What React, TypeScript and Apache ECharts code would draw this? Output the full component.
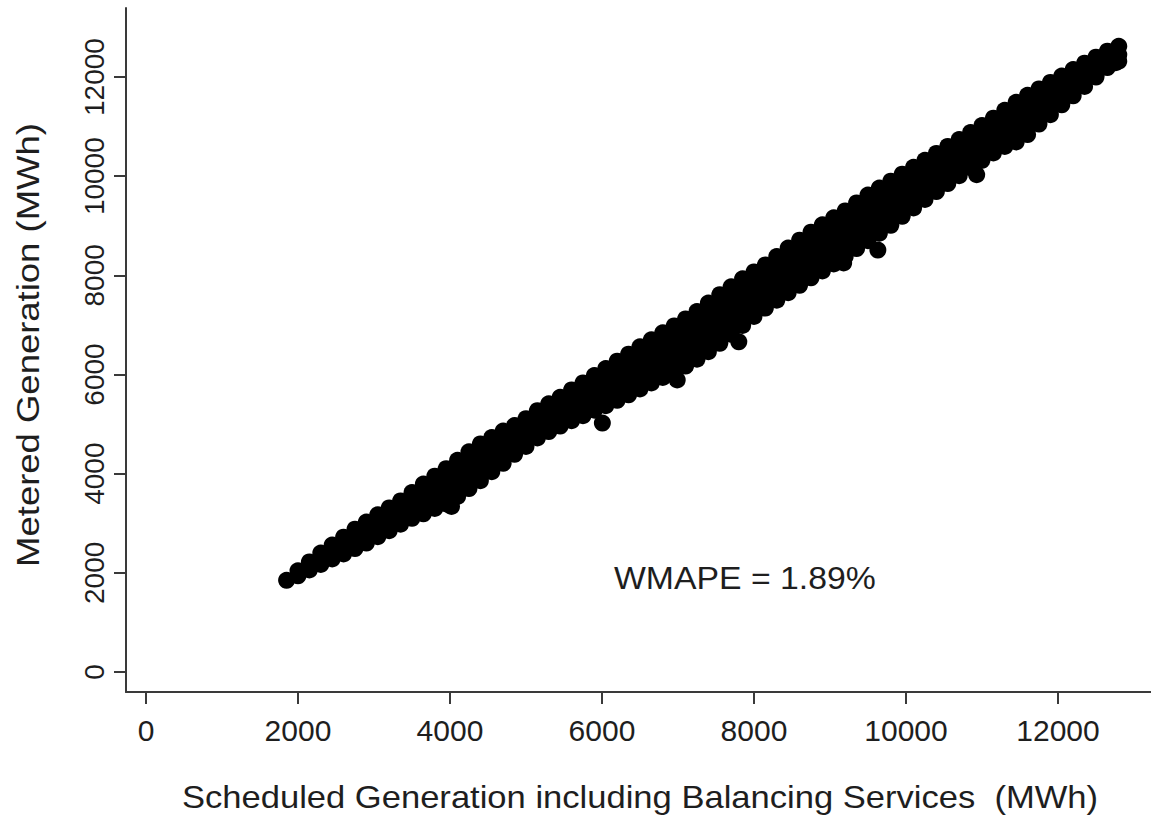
import React, { useEffect, useRef } from "react";
import * as echarts from "echarts";

const xTicks = [0, 2000, 4000, 6000, 8000, 10000, 12000];
const yTicks = [0, 2000, 4000, 6000, 8000, 10000, 12000];
const xTitle = "Scheduled Generation including Balancing Services  (MWh)";
const yTitle = "Metered Generation (MWh)";
const note = "WMAPE = 1.89%";

// Each column: [scheduled, metered values observed at that scheduled level...]
const bandLow: number[][] = [
  [1850, 1850],
  [2000, 2040, 1940],
  [2150, 2220, 2060],
  [2300, 2400, 2250, 2170],
  [2450, 2560, 2420, 2280],
  [2600, 2720, 2560, 2380],
  [2750, 2880, 2720, 2560, 2490],
  [2900, 3025, 2880, 2740, 2600],
  [3050, 3170, 3020, 2880, 2730],
  [3200, 3310, 3160, 3000, 2850],
  [3350, 3450, 3300, 3140, 2980],
  [3500, 3620, 3460, 3290, 3100],
  [3650, 3790, 3620, 3440, 3280, 3190],
  [3800, 3950, 3780, 3600, 3430, 3300],
  [3950, 4100, 3920, 3740, 3560, 3390],
  [4100, 4270, 4090, 3910, 3720, 3540],
  [4250, 4440, 4250, 4070, 3880, 3700],
  [4400, 4600, 4420, 4230, 4050, 3860],
  [4550, 4730, 4550, 4380, 4210, 4040],
  [4700, 4860, 4690, 4520, 4360, 4210],
  [4850, 4970, 4800, 4640, 4480, 4390],
];

const bandMid: number[][] = [
  [5000, 5110, 4950, 4790, 4640, 4550],
  [5150, 5270, 5100, 4940, 4800, 4720],
  [5300, 5410, 5240, 5070, 4920, 4850],
  [5450, 5540, 5380, 5210, 5050, 4960],
  [5600, 5690, 5530, 5360, 5200, 5070],
  [5750, 5830, 5660, 5490, 5330, 5170],
  [5900, 5980, 5810, 5640, 5470, 5280],
  [6050, 6120, 5940, 5760, 5580, 5370],
  [6200, 6270, 6090, 5910, 5730, 5560, 5480],
  [6350, 6410, 6230, 6050, 5870, 5690, 5590],
  [6500, 6560, 6380, 6200, 6020, 5840, 5710],
  [6650, 6700, 6520, 6340, 6160, 5990, 5830],
  [6800, 6840, 6660, 6480, 6300, 6120, 5940],
  [6950, 6980, 6800, 6620, 6440, 6260, 6050],
  [7100, 7120, 6940, 6760, 6580, 6400, 6220, 6170],
  [7250, 7270, 7090, 6910, 6730, 6550, 6370, 6310],
  [7400, 7440, 7260, 7080, 6900, 6720, 6540, 6460],
  [7550, 7610, 7430, 7250, 7070, 6890, 6710, 6630],
  [7700, 7770, 7590, 7410, 7230, 7050, 6870, 6810],
  [7850, 7930, 7750, 7570, 7390, 7210, 7040, 6990],
  [8000, 8070, 7890, 7710, 7530, 7350, 7170],
  [8150, 8210, 8030, 7850, 7670, 7500, 7340],
  [8300, 8380, 8200, 8020, 7840, 7670, 7500],
  [8450, 8550, 8370, 8190, 8010, 7830, 7650],
  [8600, 8710, 8530, 8350, 8170, 7990, 7800],
  [8750, 8870, 8690, 8510, 8330, 8150, 7950],
  [8900, 9020, 8840, 8660, 8480, 8300, 8090],
];

const bandHigh: number[][] = [
  [9050, 9160, 8980, 8800, 8620, 8440, 8230],
  [9200, 9300, 9120, 8940, 8760, 8580, 8380],
  [9350, 9460, 9280, 9100, 8920, 8740, 8540],
  [9500, 9620, 9440, 9260, 9080, 8900, 8700],
  [9650, 9760, 9580, 9400, 9220, 9040, 8850],
  [9800, 9900, 9720, 9540, 9360, 9180, 9010],
  [9950, 10040, 9860, 9680, 9500, 9320, 9190],
  [10100, 10180, 10000, 9820, 9640, 9460, 9360],
  [10250, 10320, 10140, 9960, 9780, 9600, 9530],
  [10400, 10460, 10280, 10100, 9920, 9750, 9690],
  [10550, 10600, 10420, 10240, 10060, 9900, 9850],
  [10700, 10740, 10560, 10380, 10200, 10010],
  [10850, 10880, 10700, 10520, 10340, 10170],
  [11000, 11020, 10840, 10660, 10480, 10320],
  [11150, 11170, 10990, 10810, 10630, 10470],
  [11300, 11330, 11150, 10970, 10790, 10600],
  [11450, 11490, 11310, 11130, 10950, 10690],
  [11600, 11630, 11450, 11270, 11090, 10840],
  [11750, 11760, 11580, 11400, 11220, 11050],
  [11900, 11890, 11710, 11530, 11350, 11240],
  [12050, 12020, 11840, 11660, 11480, 11440],
  [12200, 12150, 11970, 11790, 11620],
  [12350, 12280, 12100, 11920, 11810],
  [12500, 12400, 12220, 12040, 12000],
  [12650, 12520, 12340, 12190],
  [12800, 12620, 12450, 12320],
];

const outliers: number[][] = [
  [4020, 3340],
  [6005, 5020],
  [6990, 5890],
  [7800, 6660],
  [9180, 8250],
  [9630, 8510],
  [10930, 10030],
  [12760, 12290],
];

const FONT = "'Liberation Sans', Arial, sans-serif";
const TEXT = "#1e1e1e";

export default function App() {
  const ref = useRef<HTMLDivElement>(null);
  useEffect(() => {
    if (!ref.current) return;
    const chart = echarts.init(ref.current, undefined, { renderer: "svg" });
    const points: number[][] = [];
    [...bandLow, ...bandMid, ...bandHigh].forEach(([x, ...ys]) => {
      ys.forEach((y) => points.push([x, y]));
    });
    outliers.forEach((p) => points.push(p));

    const axisCommon = {
      type: "value" as const,
      splitLine: { show: false },
      axisLine: { show: true, onZero: false, lineStyle: { color: "#3a3a3a", width: 2 } },
      axisTick: { show: true, length: 12, lineStyle: { color: "#3a3a3a", width: 2 } },
    };

    chart.setOption({
      animation: false,
      backgroundColor: "#ffffff",
      grid: { left: 126, right: 0, top: 8, bottom: 125, containLabel: false },
      xAxis: {
        ...axisCommon,
        min: -263,
        max: 13224,
        axisTick: { ...axisCommon.axisTick, customValues: xTicks },
        axisLabel: {
          customValues: xTicks,
          formatter: (v: number) => String(v),
          fontSize: 30,
          color: TEXT,
          fontFamily: FONT,
          margin: 23,
        },
      },
      yAxis: {
        ...axisCommon,
        min: -403,
        max: 13392,
        axisTick: { ...axisCommon.axisTick, customValues: yTicks },
        axisLabel: {
          customValues: yTicks,
          formatter: (v: number) => String(v),
          fontSize: 28,
          color: TEXT,
          fontFamily: FONT,
          rotate: 90,
          margin: 18,
        },
      },
      series: [
        {
          type: "scatter",
          data: points,
          symbol: "circle",
          symbolSize: 17,
          itemStyle: { color: "#000000", opacity: 1 },
          emphasis: { disabled: true },
        },
      ],
      graphic: [
        {
          type: "text",
          x: 640,
          y: 797,
          scaleX: 1.08,
          style: {
            text: xTitle,
            fontSize: 32,
            fontFamily: FONT,
            fill: TEXT,
            textAlign: "center",
            textVerticalAlign: "middle",
          },
        },
        {
          type: "text",
          x: 28,
          y: 345,
          rotation: Math.PI / 2,
          scaleX: 1.14,
          style: {
            text: yTitle,
            fontSize: 32,
            fontFamily: FONT,
            fill: TEXT,
            textAlign: "center",
            textVerticalAlign: "middle",
          },
        },
        {
          type: "text",
          x: 614,
          y: 578,
          scaleX: 1.09,
          style: {
            text: note,
            fontSize: 31,
            fontFamily: FONT,
            fill: TEXT,
            textAlign: "left",
            textVerticalAlign: "middle",
          },
        },
      ],
    });
    return () => chart.dispose();
  }, []);
  return (
    <div
      ref={ref}
      style={{ position: "fixed", left: 0, top: 0, width: 1151, height: 817, background: "#fff" }}
    />
  );
}
